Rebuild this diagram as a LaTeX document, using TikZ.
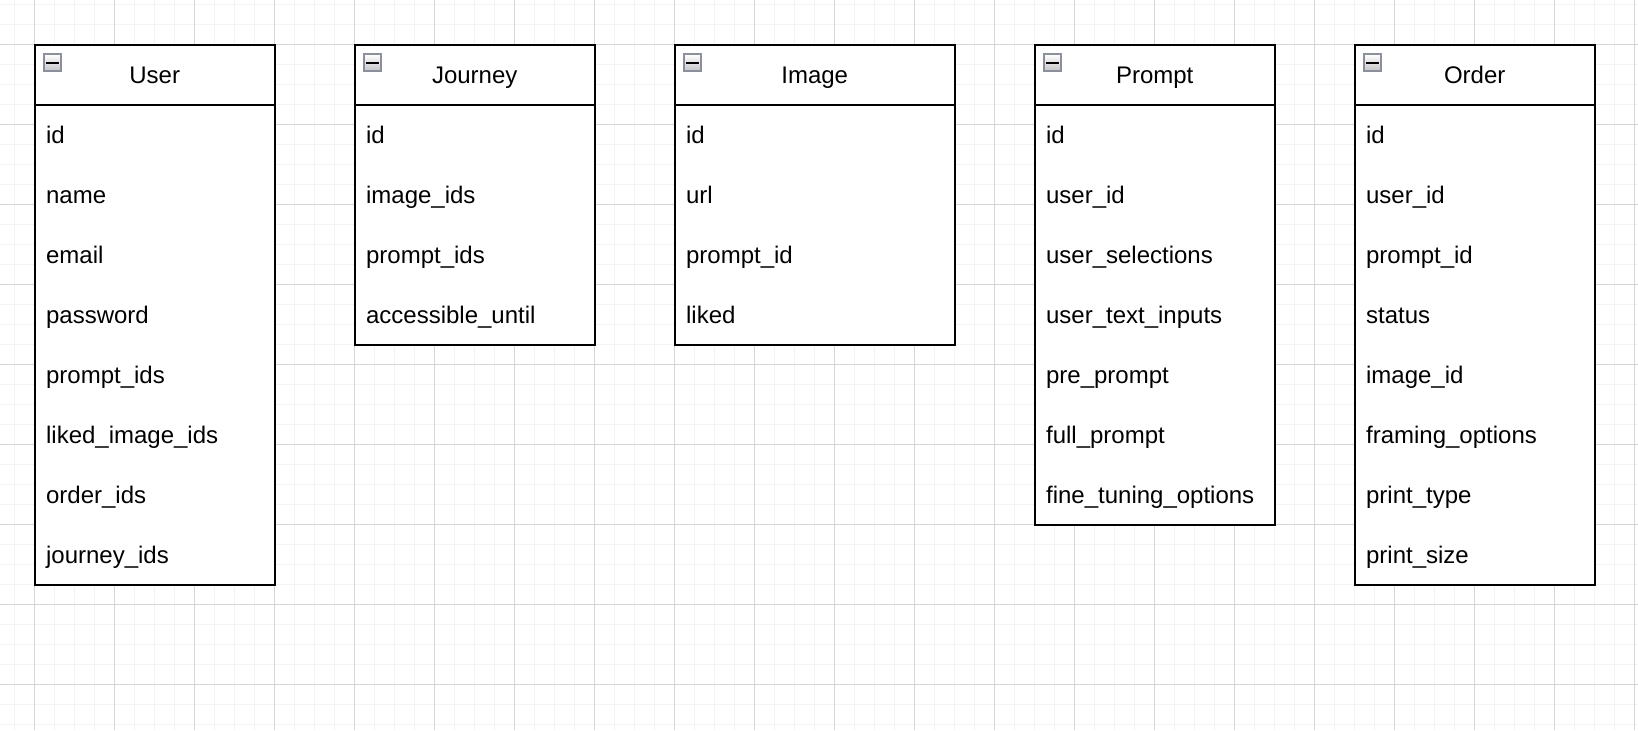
\documentclass[tikz,border=0pt]{standalone}
\usepackage{fontspec}
\setmainfont{Liberation Sans}
\usetikzlibrary{positioning}

\definecolor{gridminor}{HTML}{F3F3F3}
\definecolor{gridmajor}{HTML}{D6D6D6}
\definecolor{iconborder}{HTML}{8C909C}
\definecolor{iconfill}{HTML}{C4C4C8}

\tikzset{
  entity/.style={draw, line width=1pt, fill=white, outer sep=0pt, inner sep=0pt,
    minimum height=30pt, anchor=north west, text height=8.6pt, text depth=0pt},
  fields/.style={draw, line width=1pt, fill=white, outer sep=0pt, inner sep=0pt},
  field/.style={anchor=west, inner sep=0pt, text height=8.6pt, text depth=0pt},
  toggle/.style={draw=iconborder, line width=1pt, top color=white, bottom color=iconfill,
    minimum size=8.5pt, inner sep=0pt},
  togglebar/.style={line width=1pt}
}

\begin{document}
\begin{tikzpicture}[x=0.5pt, y=-0.5pt, font=\fontsize{12}{14}\selectfont]
    \useasboundingbox (0,0) rectangle (1638,730);
    \fill[white] (0,0) rectangle (1638,730);

    % grid
    \foreach \x in {14.7,34.7,...,1636}
        \draw[gridminor, line width=0.5pt] (\x,0) -- (\x,730);
    \foreach \y in {4.5,24.5,...,729}
        \draw[gridminor, line width=0.5pt] (0,\y) -- (1638,\y);
    \foreach \x in {34.7,114.7,...,1636}
        \draw[gridmajor, line width=0.5pt] (\x,0) -- (\x,730);
    \foreach \y in {44.5,124.5,...,729}
        \draw[gridmajor, line width=0.5pt] (0,\y) -- (1638,\y);

    % User
    \node[entity, minimum width=120pt] (user) at (34.7,44.5) {User};
    \node[fields, minimum width=120pt, minimum height=240pt, below=0pt of user] (user body) {};
    \foreach \f [count=\i] in {id,name,email,password,prompt\_ids,liked\_image\_ids,order\_ids,journey\_ids}
        \node[field] (user-\i) at ([shift={(11,{60*\i-30})}]user body.north west) {\f};
    \node[toggle] (user-toggle) at ([shift={(18,18.2)}]user.north west) {};
    \draw[togglebar] ([xshift=1.6pt]user-toggle.west) -- ([xshift=-1.6pt]user-toggle.east);

    % Journey
    \node[entity, minimum width=120pt] (journey) at (354.7,44.5) {Journey};
    \node[fields, minimum width=120pt, minimum height=120pt, below=0pt of journey] (journey body) {};
    \foreach \f [count=\i] in {id,image\_ids,prompt\_ids,accessible\_until}
        \node[field] (journey-\i) at ([shift={(11,{60*\i-30})}]journey body.north west) {\f};
    \node[toggle] (journey-toggle) at ([shift={(18,18.2)}]journey.north west) {};
    \draw[togglebar] ([xshift=1.6pt]journey-toggle.west) -- ([xshift=-1.6pt]journey-toggle.east);

    % Image
    \node[entity, minimum width=140pt] (image) at (674.7,44.5) {Image};
    \node[fields, minimum width=140pt, minimum height=120pt, below=0pt of image] (image body) {};
    \foreach \f [count=\i] in {id,url,prompt\_id,liked}
        \node[field] (image-\i) at ([shift={(11,{60*\i-30})}]image body.north west) {\f};
    \node[toggle] (image-toggle) at ([shift={(18,18.2)}]image.north west) {};
    \draw[togglebar] ([xshift=1.6pt]image-toggle.west) -- ([xshift=-1.6pt]image-toggle.east);

    % Prompt
    \node[entity, minimum width=120pt] (prompt) at (1034.7,44.5) {Prompt};
    \node[fields, minimum width=120pt, minimum height=210pt, below=0pt of prompt] (prompt body) {};
    \foreach \f [count=\i] in {id,user\_id,user\_selections,user\_text\_inputs,pre\_prompt,full\_prompt,fine\_tuning\_options}
        \node[field] (prompt-\i) at ([shift={(11,{60*\i-30})}]prompt body.north west) {\f};
    \node[toggle] (prompt-toggle) at ([shift={(18,18.2)}]prompt.north west) {};
    \draw[togglebar] ([xshift=1.6pt]prompt-toggle.west) -- ([xshift=-1.6pt]prompt-toggle.east);

    % Order
    \node[entity, minimum width=120pt] (order) at (1354.7,44.5) {Order};
    \node[fields, minimum width=120pt, minimum height=240pt, below=0pt of order] (order body) {};
    \foreach \f [count=\i] in {id,user\_id,prompt\_id,status,image\_id,framing\_options,print\_type,print\_size}
        \node[field] (order-\i) at ([shift={(11,{60*\i-30})}]order body.north west) {\f};
    \node[toggle] (order-toggle) at ([shift={(18,18.2)}]order.north west) {};
    \draw[togglebar] ([xshift=1.6pt]order-toggle.west) -- ([xshift=-1.6pt]order-toggle.east);
\end{tikzpicture}
\end{document}
